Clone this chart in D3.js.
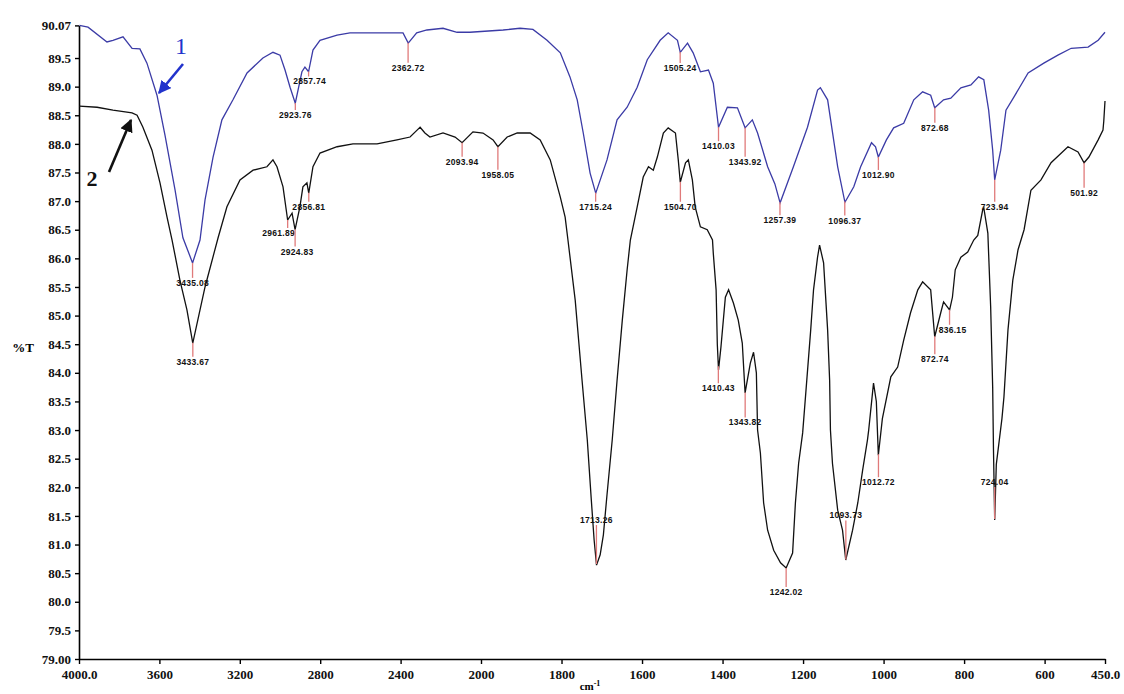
<!DOCTYPE html>
<html><head><meta charset="utf-8">
<script src="https://cdn.jsdelivr.net/npm/d3@7"></script>
<style>
html,body{margin:0;padding:0;background:#fff;}
svg{display:block;}
</style></head>
<body>
<svg id="chart" width="1124" height="694"></svg>
<script>
// ---------- data ----------
const xTickValues = [4000,3600,3200,2800,2400,2000,1800,1600,1400,1200,1000,800,600,450];
const xTickLabels = ["4000.0","3600","3200","2800","2400","2000","1800","1600","1400","1200","1000","800","600","450.0"];
const yTickValues = [79.0,79.5,80.0,80.5,81.0,81.5,82.0,82.5,83.0,83.5,84.0,84.5,85.0,85.5,86.0,86.5,87.0,87.5,88.0,88.5,89.0,89.5,90.07];
const yTickLabels = ["79.00","79.5","80.0","80.5","81.0","81.5","82.0","82.5","83.0","83.5","84.0","84.5","85.0","85.5","86.0","86.5","87.0","87.5","88.0","88.5","89.0","89.5","90.07"];

const series1Wn = [3998,3955,3861,3831,3781,3736,3697,3662,3612,3572,3522,3483,3435,3398,3373,3333,3289,3234,3164,3085,3035,3000,2975,2950,2924,2891,2876,2858,2836,2801,2716,2652,2552,2388,2362,2320,2269,2189,2119,2055,1945,1903,1871,1836,1803,1779,1761,1746,1729,1715,1687,1662,1637,1612,1587,1555,1535,1512,1505,1487,1473,1455,1435,1423,1410,1388,1363,1344,1326,1313,1288,1270,1257,1224,1189,1164,1157,1139,1114,1096,1074,1057,1030,1020,1013,993,975,950,925,903,883,873,851,833,808,783,764,751,739,729,724,709,696,676,641,602,567,534,492,467,450];
const series1T = [90.07,90.04,89.78,89.81,89.87,89.67,89.66,89.41,88.85,88.15,87.19,86.36,85.92,86.32,87.02,87.77,88.42,88.77,89.24,89.50,89.60,89.55,89.29,88.99,88.71,89.26,89.34,89.26,89.64,89.81,89.90,89.94,89.94,89.94,89.76,89.94,89.99,90.02,89.95,89.95,89.99,90.02,90.00,89.81,89.59,89.17,88.77,88.19,87.49,87.14,87.72,88.42,88.64,88.99,89.47,89.81,89.94,89.81,89.60,89.76,89.59,89.26,89.29,89.06,88.29,88.64,88.63,88.28,88.42,88.19,87.60,87.30,86.97,87.60,88.29,88.94,88.98,88.77,87.60,86.98,87.25,87.60,88.02,87.95,87.77,88.07,88.28,88.36,88.77,88.91,88.85,88.63,88.77,88.80,88.98,89.03,89.17,89.12,88.59,87.89,87.37,87.89,88.59,88.82,89.24,89.41,89.55,89.67,89.69,89.81,89.95];

const series2Wn = [3998,3910,3831,3736,3711,3682,3637,3597,3562,3537,3498,3463,3434,3373,3308,3264,3199,3134,3065,3035,3015,2985,2962,2940,2925,2901,2886,2866,2857,2836,2801,2716,2637,2517,2418,2353,2318,2303,2279,2254,2189,2129,2094,2040,1995,1970,1958,1935,1910,1878,1853,1828,1803,1791,1784,1766,1749,1736,1726,1719,1713,1704,1696,1687,1674,1662,1649,1637,1629,1612,1597,1584,1572,1562,1547,1535,1517,1510,1505,1492,1485,1475,1468,1455,1438,1425,1423,1416,1413,1410,1404,1393,1385,1373,1361,1351,1344,1331,1323,1316,1313,1306,1298,1288,1273,1256,1242,1226,1219,1211,1201,1194,1181,1174,1164,1159,1149,1139,1134,1132,1127,1114,1102,1094,1077,1064,1052,1040,1037,1025,1018,1013,1003,982,965,950,933,915,903,883,880,873,858,851,836,829,822,808,791,776,766,754,751,741,734,729,727,724,720,706,701,691,679,666,651,634,609,584,542,517,502,490,467,455,453,450];
const series2T = [88.66,88.64,88.59,88.54,88.50,88.29,87.89,87.32,86.72,86.32,85.62,85.10,84.52,85.50,86.36,86.90,87.37,87.54,87.60,87.72,87.60,87.25,86.67,86.79,86.50,86.90,87.25,87.32,87.14,87.60,87.84,87.95,88.00,88.00,88.07,88.12,88.24,88.29,88.19,88.12,88.19,88.12,88.02,88.21,88.19,88.07,87.95,88.12,88.19,88.19,88.07,87.72,87.07,86.72,86.32,85.27,83.87,82.83,81.78,81.08,80.64,80.82,81.17,81.87,82.83,83.87,84.92,85.80,86.32,86.90,87.42,87.60,87.54,87.77,88.19,88.28,88.19,87.72,87.33,87.67,87.72,87.37,86.90,86.55,86.50,86.32,86.09,85.45,84.50,84.05,84.45,85.32,85.45,85.22,84.92,84.52,83.65,84.17,84.36,84.00,83.00,82.60,81.73,81.25,80.90,80.68,80.59,80.85,81.73,82.42,82.95,83.58,84.75,85.45,86.02,86.23,85.92,84.75,83.87,83.00,82.42,81.60,81.25,80.73,81.25,81.73,82.30,82.83,83.00,83.82,83.50,82.56,83.20,83.93,84.10,84.57,85.05,85.45,85.59,85.45,85.20,84.63,85.05,85.24,85.10,85.32,85.80,86.02,86.11,86.32,86.40,86.84,86.88,86.44,85.15,83.75,82.65,81.43,82.40,83.20,83.58,84.75,85.62,86.15,86.50,87.19,87.37,87.67,87.95,87.86,87.67,87.77,88.07,88.24,88.40,88.75];

const peaks1 = [3435.08,2923.76,2857.74,2362.72,1715.24,1505.24,1410.03,1343.92,1257.39,1096.37,1012.90,872.68,723.94];
const peaks2 = [3433.67,2961.89,2924.83,2856.81,2093.94,1958.05,1713.26,1504.70,1410.43,1343.82,1242.02,1093.73,1012.72,872.74,836.15,724.04,501.92];

// ---------- layout (label offsets in px relative to curve point) ----------
const peaks1Dy = [20,12,10,25,14,16,19,34,18,19,18,20,27];
const peaks1Dx = [0,0,1,0,0,0,0,0,0,0,0,0,0];
const peaks2Dy = [19,13,22,14,19,28,-44,25,22,30,24,-44,28,23,20,-37,30];
const peaks2Dx = [0,-9,2,0,0,0,0,0,0,0,0,0,0,0,3,0,0];

const svg = d3.select("#chart");
const x = d3.scaleLinear().domain([4000,2000,450]).range([79,481,1105]);
const y = d3.scaleLinear().domain([79,90.07]).range([659,25.4]);

const tickFont = "'Liberation Serif','Times New Roman',serif";

// axes
const xAxis = d3.axisBottom(x).tickValues(xTickValues)
  .tickFormat((d,i)=>xTickLabels[i]).tickSize(5).tickSizeOuter(0);
const gx = svg.append("g").attr("transform","translate(0,659)").call(xAxis);
gx.select(".domain").attr("stroke","#000").attr("stroke-width",1.6);
gx.selectAll(".tick line").attr("stroke","#000").attr("stroke-width",1.4);
gx.selectAll(".tick text").attr("font-family",tickFont).attr("font-weight","bold")
  .attr("font-size",13).attr("fill","#111").attr("dy","0.95em");

const yAxis = d3.axisLeft(y).tickValues(yTickValues)
  .tickFormat((d,i)=>yTickLabels[i]).tickSize(4).tickSizeOuter(0);
const gy = svg.append("g").attr("transform","translate(79,0)").call(yAxis);
gy.select(".domain").attr("stroke","#000").attr("stroke-width",1.6);
gy.selectAll(".tick line").attr("stroke","#000").attr("stroke-width",1.4);
gy.selectAll(".tick text").attr("font-family",tickFont).attr("font-weight","bold")
  .attr("font-size",13).attr("fill","#111").attr("x",-8);

// axis titles
svg.append("text").attr("x",23).attr("y",352).attr("text-anchor","middle")
  .attr("font-family",tickFont).attr("font-weight","bold").attr("font-size",13).text("%T");
const xt = svg.append("text").attr("x",590).attr("y",690).attr("text-anchor","middle")
  .attr("font-family",tickFont).attr("font-weight","bold").attr("font-size",11);
xt.append("tspan").text("cm");
xt.append("tspan").attr("dy",-4).attr("font-size",8).text("-1");

// curves
const line = d3.line().x(d=>x(d[0])).y(d=>y(d[1]));
const data1 = series1Wn.map((w,i)=>[w,series1T[i]]);
const data2 = series2Wn.map((w,i)=>[w,series2T[i]]);

function interp(wn, W, T){
  for(let i=0;i<W.length-1;i++){
    const a=W[i], b=W[i+1];
    if((wn<=a && wn>=b)){ const t=(a===b)?0:(a-wn)/(a-b); return T[i]+(T[i+1]-T[i])*t; }
  }
  return T[T.length-1];
}

const labelFont = "'Liberation Sans',Arial,sans-serif";
function drawPeaks(peaks, dys, dxs, W, T){
  const g = svg.append("g");
  peaks.forEach((p,i)=>{
    const px = x(p), py = y(interp(p,W,T));
    const ly = py + dys[i];
    const end = dys[i] > 0 ? ly - 5 : ly + 5;
    g.append("line").attr("x1",px).attr("x2",px).attr("y1",py).attr("y2",end)
      .attr("stroke","#e07a7a").attr("stroke-width",1.3);
    g.append("text").attr("x",px+dxs[i]).attr("y",ly).attr("dy","0.35em")
      .attr("text-anchor","middle").attr("font-family",labelFont).attr("font-weight","bold")
      .attr("font-size",8.5).attr("letter-spacing",0.3).attr("fill","#111").text(p.toFixed(2));
  });
}

svg.append("path").datum(data2).attr("d",line).attr("fill","none")
  .attr("stroke","#111").attr("stroke-width",1.3);
svg.append("path").datum(data1).attr("d",line).attr("fill","none")
  .attr("stroke","#3b3ba6").attr("stroke-width",1.3);

drawPeaks(peaks1, peaks1Dy, peaks1Dx, series1Wn, series1T);
drawPeaks(peaks2, peaks2Dy, peaks2Dx, series2Wn, series2T);

// annotations "1" and "2" with arrows
const defs = svg.append("defs");
defs.append("marker").attr("id","ah1").attr("viewBox","0 0 10 10").attr("refX",9).attr("refY",5)
  .attr("markerWidth",5).attr("markerHeight",5).attr("orient","auto")
  .append("path").attr("d","M0,0L10,5L0,10Z").attr("fill","#2233cc");
defs.append("marker").attr("id","ah2").attr("viewBox","0 0 10 10").attr("refX",9).attr("refY",5)
  .attr("markerWidth",5).attr("markerHeight",5).attr("orient","auto")
  .append("path").attr("d","M0,0L10,5L0,10Z").attr("fill","#111");

svg.append("text").attr("x",181).attr("y",54).attr("text-anchor","middle")
  .attr("font-family",tickFont).attr("font-size",24).attr("fill","#2233cc").text("1");
svg.append("line").attr("x1",183).attr("y1",64).attr("x2",159).attr("y2",93)
  .attr("stroke","#2233cc").attr("stroke-width",2.6).attr("marker-end","url(#ah1)");

svg.append("text").attr("x",92).attr("y",186).attr("text-anchor","middle")
  .attr("font-family",tickFont).attr("font-weight","bold").attr("font-size",22).attr("fill","#111").text("2");
svg.append("line").attr("x1",109).attr("y1",172).attr("x2",131).attr("y2",120)
  .attr("stroke","#111").attr("stroke-width",2.6).attr("marker-end","url(#ah2)");
</script>
</body></html>
